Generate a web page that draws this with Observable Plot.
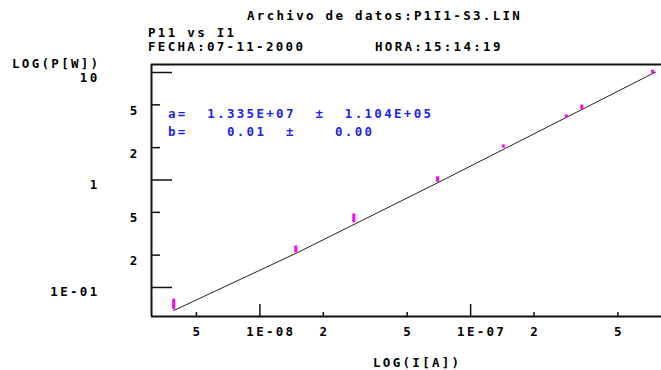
<!DOCTYPE html>
<html><head><meta charset="utf-8">
<script src="https://cdn.jsdelivr.net/npm/d3@7"></script>
<script src="https://cdn.jsdelivr.net/npm/@observablehq/plot@0.6"></script>
<style>
body{margin:0;background:#fff;}
#wrap{position:relative;width:661px;height:370px;overflow:hidden;background:#fff;}
#wrap svg{position:absolute;left:0;top:0;}
</style></head><body><div id="wrap"></div>
<script>
const current = [3.9e-9, 1.48e-8, 2.79e-8, 6.97e-8, 1.43e-7, 2.85e-7, 3.37e-7, 7.31e-7];
const power = [0.062, 0.21, 0.40, 0.95, 1.98, 3.77, 4.5, 9.7];
const powerUpper = [0.078, 0.243, 0.483, 1.07, 2.12, 4.02, 4.97, 10.5];
// Fitted line, points
const fitCurrent = [3.9e-9, 1.5e-8, 7e-8, 7.55e-7];
const fitPower = [0.061, 0.21, 0.945, 10.1];
// Ticks
const xTickValues = [5e-9, 1e-8, 2e-8, 5e-8, 1e-7, 2e-7, 5e-7];
const xTickLabels = ["5", "1E-08", "2", "5", "1E-07", "2", "5"];
const yTickValues = [10, 5, 2, 1, 0.5, 0.2, 0.1];
const yTickLabels = ["10", "5", "2", "1", "5", "2", "1E-01"];
const xDomain = [3.06e-9, 8.05e-7];
const yDomain = [0.0537, 11.87];
// Texts
const title = "Archivo de datos:P1I1-S3.LIN";
const subtitle = "P11 vs I1";
const dateText = "FECHA:07-11-2000";
const timeText = "HORA:15:14:19";
const yTitle = "LOG(P[W])";
const xTitle = "LOG(I[A])";
const fitLineA = "a=  1.335E+07  \u00b1  1.104E+05";
const fitLineB = "b=    0.01  \u00b1    0.00";

const W = 661, H = 370, mL = 151, mR = 0, mT = 64, mB = 54;
const fw = W - mL - mR, fh = H - mT - mB;
const font = "'DejaVu Sans Mono', monospace";
const isMajor = v => Math.abs(Math.log10(v) - Math.round(Math.log10(v))) < 1e-9;

const points = current.map((c, i) => ({I: c, P: power[i], Pu: powerUpper[i]}));
const fit = fitCurrent.map((c, i) => ({I: c, P: fitPower[i]}));
const xt = xTickValues.map((v, i) => ({v, label: xTickLabels[i], major: isMajor(v)}));
const yt = yTickValues.map((v, i) => ({v, label: yTickLabels[i], major: isMajor(v)}));

const textOpts = {fontFamily: font, fontWeight: "bold", fontSize: 12.5, fill: "#000"};

const chart = Plot.plot({
  width: W, height: H,
  marginLeft: mL, marginRight: mR, marginTop: mT, marginBottom: mB,
  style: {background: "transparent", letterSpacing: "2.3px"},
  x: {type: "log", domain: xDomain, axis: null},
  y: {type: "log", domain: yDomain, axis: null},
  marks: [
    // frame lines
    Plot.ruleX([xDomain[0]], {stroke: "#111", strokeWidth: 2}),
    Plot.ruleY([yDomain[0], yDomain[1]], {stroke: "#111", strokeWidth: 2}),
    // inward ticks
    Plot.ruleY(yt.filter(d => d.major), {y: "v", stroke: "#111", strokeWidth: 1.5, insetRight: fw - 21}),
    Plot.ruleY(yt.filter(d => !d.major), {y: "v", stroke: "#111", strokeWidth: 1.5, insetRight: fw - 9}),
    Plot.ruleX(xt.filter(d => d.major), {x: "v", stroke: "#111", strokeWidth: 1.5, insetTop: fh - 12}),
    Plot.ruleX(xt.filter(d => !d.major), {x: "v", stroke: "#111", strokeWidth: 1.5, insetTop: fh - 4}),
    // tick labels
    Plot.text(yt.filter(d => d.major), {y: "v", text: "label", frameAnchor: "left", textAnchor: "end", dx: -52, dy: 9, lineAnchor: "bottom", ...textOpts}),
    Plot.text(yt.filter(d => !d.major), {y: "v", text: "label", frameAnchor: "left", textAnchor: "end", dx: -12, dy: 10, lineAnchor: "bottom", ...textOpts}),
    Plot.text(xt.filter(d => d.major), {x: "v", text: "label", frameAnchor: "bottom", dx: 11, dy: 19, lineAnchor: "bottom", ...textOpts}),
    Plot.text(xt.filter(d => !d.major), {x: "v", text: "label", frameAnchor: "bottom", dx: 1, dy: 19, lineAnchor: "bottom", ...textOpts}),
    // fitted line
    Plot.line(fit, {x: "I", y: "P", stroke: "#222", strokeWidth: 1}),
    // error bars / markers
    Plot.ruleX(points, {x: "I", y1: "P", y2: "Pu", stroke: "#f0f", strokeWidth: 3})
  ]
});

const wrap = document.getElementById("wrap");
wrap.appendChild(chart);

// Overlay texts
const overlay = d3.select(wrap).append("svg").attr("width", W).attr("height", H)
  .style("font-family", font).style("font-weight", "bold").style("font-size", "12.5px")
  .style("letter-spacing", "2.3px");
const labels = [
  {t: title, x: 247, y: 20, c: "#000"},
  {t: subtitle, x: 148, y: 37, c: "#000"},
  {t: dateText, x: 148, y: 51, c: "#000"},
  {t: timeText, x: 375, y: 51, c: "#000"},
  {t: yTitle, x: 12, y: 68, c: "#000"},
  {t: xTitle, x: 373, y: 367, c: "#000"},
  {t: fitLineA, x: 168, y: 118, c: "#2222ee"},
  {t: fitLineB, x: 168, y: 136, c: "#2222ee"}
];
overlay.selectAll("text").data(labels).join("text")
  .attr("x", d => d.x).attr("y", d => d.y).attr("fill", d => d.c)
  .attr("xml:space", "preserve").style("white-space", "pre")
  .text(d => d.t);
</script></body></html>
